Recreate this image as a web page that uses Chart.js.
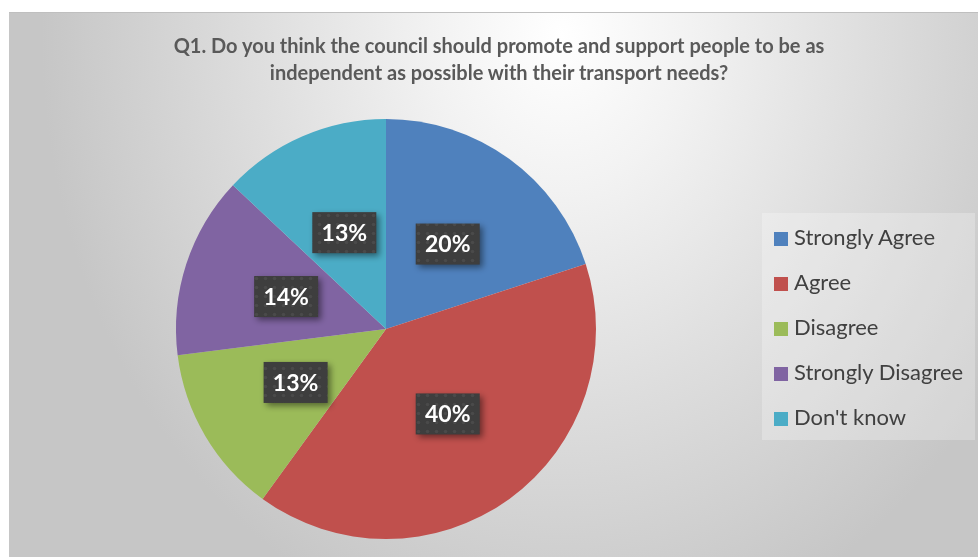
<!DOCTYPE html>
<html>
<head>
<meta charset="utf-8">
<script src="https://cdn.jsdelivr.net/npm/chart.js@4.4.0/dist/chart.umd.min.js"></script>
<style>
    html, body { margin: 0; padding: 0; background: #ffffff; }
    body { width: 978px; height: 557px; position: relative; overflow: hidden; font-family: Lato, 'Open Sans', sans-serif; }
    #frame {
        position: absolute; left: 9px; top: 12px; width: 969px; height: 545px;
        border-top: 1px solid #bfbfbf;
        background: radial-gradient(520px 620px at 57% 4%, #ffffff 0%, #f2f2f2 25%, #dddddd 60%, #c6c6c6 100%);
    }
    #frame canvas { position: absolute; left: 0; top: 0; }
    #title {
        position: absolute; left: 9px; top: 32px; width: 980px; text-align: center;
        font-size: 20px; font-weight: bold; line-height: 27px; color: #595959;
    }
    #legend {
        position: absolute; left: 762px; top: 213px; width: 213px; height: 227px;
        background: rgba(255, 255, 255, 0.25);
    }
    .item { position: absolute; left: 12px; height: 26px; line-height: 26px; font-size: 22px; color: #404040; white-space: nowrap; }
    .item span { display: inline-block; width: 14px; height: 14px; margin-right: 6px; vertical-align: -1px; }
</style>
</head>
<body>
<div id="frame"><canvas id="pieChart" width="969" height="545"></canvas></div>
<div id="title"></div>
<div id="legend"></div>
<script>
// Chart data
const categories = ['Strongly Agree', 'Agree', 'Disagree', 'Strongly Disagree', "Don't know"];
const percentages = [20, 40, 13, 14, 13];
const sliceColors = ['#4F81BD', '#C0504D', '#9BBB59', '#8064A2', '#4BACC6'];
const titleLines = [
    'Q1. Do you think the council should promote and support people to be as',
    'independent as possible with their transport needs?'
];

// Dark dotted fill for the data label boxes
function labelPattern(ctx) {
    const p = document.createElement('canvas');
    p.width = 9; p.height = 9;
    const pc = p.getContext('2d');
    pc.fillStyle = '#3e3e3e';
    pc.fillRect(0, 0, 9, 9);
    pc.fillStyle = '#4a4a4a';
    pc.beginPath();
    pc.arc(4.5, 4.5, 1.8, 0, Math.PI * 2);
    pc.fill();
    return ctx.createPattern(p, 'repeat');
}

// Data labels drawn at each slice's center point
const boxLabels = {
    id: 'boxLabels',
    afterDatasetsDraw(chart) {
        const ctx = chart.ctx;
        const meta = chart.getDatasetMeta(0);
        const fill = labelPattern(ctx);
        const w = 64, h = 41;
        meta.data.forEach((arc, i) => {
            const pt = arc.getCenterPoint();
            const x = pt.x - w / 2, y = pt.y - h / 2;
            ctx.save();
            ctx.shadowColor = 'rgba(0, 0, 0, 0.45)';
            ctx.shadowBlur = 6;
            ctx.shadowOffsetX = 3;
            ctx.shadowOffsetY = 3;
            ctx.fillStyle = fill;
            ctx.fillRect(x, y, w, h);
            ctx.restore();
            ctx.save();
            ctx.fillStyle = '#ffffff';
            ctx.font = "bold 23px Lato, 'Open Sans', sans-serif";
            ctx.textAlign = 'center';
            ctx.textBaseline = 'middle';
            ctx.fillText(percentages[i] + '%', pt.x, pt.y + 1);
            ctx.restore();
        });
    }
};

const ctx = document.getElementById('pieChart').getContext('2d');
new Chart(ctx, {
    type: 'pie',
    data: {
        labels: categories,
        datasets: [{
            data: percentages,
            backgroundColor: sliceColors,
            borderWidth: 0
        }]
    },
    plugins: [boxLabels],
    options: {
        responsive: false,
        animation: false,
        layout: { padding: { left: 0, right: 215, top: 106, bottom: 19 } },
        plugins: {
            legend: { display: false },
            tooltip: { enabled: false }
        }
    }
});

// Title
document.getElementById('title').innerHTML = titleLines.join('<br>');

// Legend
const legend = document.getElementById('legend');
categories.forEach((name, i) => {
    const row = document.createElement('div');
    row.className = 'item';
    row.style.top = (11 + i * 45) + 'px';
    row.innerHTML = '<span style="background:' + sliceColors[i] + '"></span>' + name;
    legend.appendChild(row);
});
</script>
</body>
</html>
